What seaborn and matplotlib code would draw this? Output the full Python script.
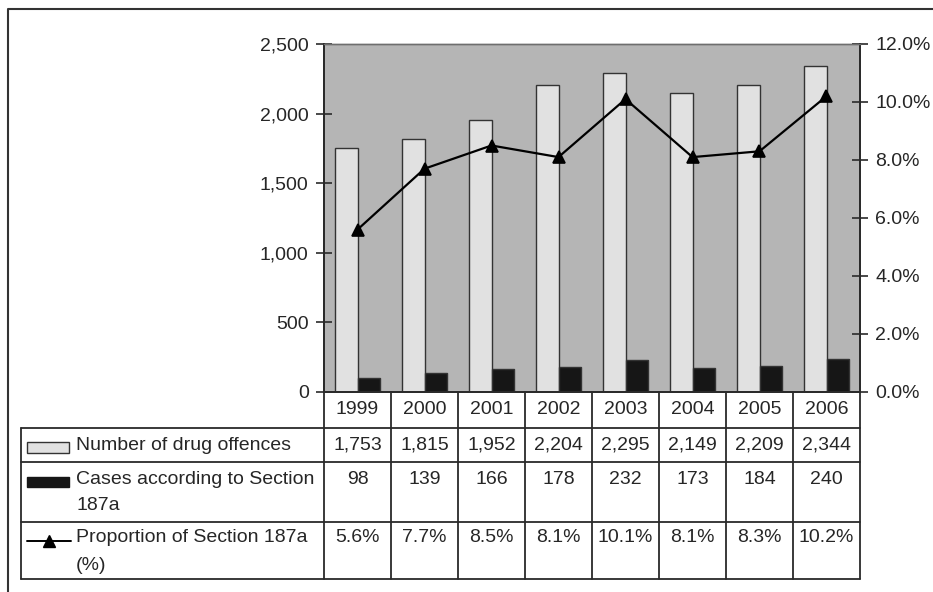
import matplotlib
matplotlib.use("Agg")
import matplotlib.pyplot as plt
from matplotlib.lines import Line2D
from matplotlib.patches import Rectangle
from matplotlib import transforms
import seaborn as sns
import pandas as pd
import numpy as np

years = ["1999", "2000", "2001", "2002", "2003", "2004", "2005", "2006"]
drug_offences = [1753, 1815, 1952, 2204, 2295, 2149, 2209, 2344]
cases_187a = [98, 139, 166, 178, 232, 173, 184, 240]
share_187a = [5.6, 7.7, 8.5, 8.1, 10.1, 8.1, 8.3, 10.2]

series_names = ["Number of drug offences", "Cases according to Section 187a"]
left_ticks = [0, 500, 1000, 1500, 2000, 2500]
right_ticks = [0, 2, 4, 6, 8, 10, 12]

sns.set_theme(style="white")
plt.rcParams["font.family"] = ["Liberation Sans", "DejaVu Sans"]

W, H = 933, 592
FS = 14.0
TXT = "#262626"
LINE = "#2a2a2a"


def fx(x):
    return x / W


def fy(y):
    return 1 - y / H


df = pd.DataFrame({
    "year": years * 2,
    "series": [series_names[0]] * len(years) + [series_names[1]] * len(years),
    "value": drug_offences + cases_187a,
})

fig = plt.figure(figsize=(W / 100, H / 100), dpi=100)
fig.patch.set_facecolor("white")

ax_left, ax_top, ax_right, ax_bottom = 324, 44, 860, 392
ax = fig.add_axes([fx(ax_left), fy(ax_bottom), fx(ax_right - ax_left), (ax_bottom - ax_top) / H])
ax.set_facecolor("#b5b5b5")

sns.barplot(data=df, x="year", y="value", hue="series", order=years,
            hue_order=series_names, palette=["#e1e1e1", "#161616"],
            edgecolor="#333333", linewidth=1.0, width=0.66, gap=0,
            saturation=1, legend=False, ax=ax)
ax.set_xlim(-0.5, len(years) - 0.5)
ax.set_ylim(0, 2500)
ax.set_yticks(left_ticks)
ax.set_yticklabels([f"{v:,}" for v in left_ticks])
ax.set_xticks([])
ax.set_xlabel("")
ax.set_ylabel("")
ax.tick_params(axis="y", direction="inout", length=12, width=1.2, color=LINE,
               labelsize=FS, labelcolor=TXT, pad=5, left=True)

ax2 = ax.twinx()
sns.pointplot(x=years, y=share_187a, order=years, color="black",
              markers="^", markersize=9, linewidth=1.6, ax=ax2)
ax2.set_xlim(-0.5, len(years) - 0.5)
ax2.set_ylim(0, 12)
ax2.set_yticks(right_ticks)
ax2.set_yticklabels([f"{v:.1f}%" for v in right_ticks])
ax2.set_ylabel("")
ax2.set_xticks([])
ax2.tick_params(axis="y", direction="inout", length=12, width=1.2, color=LINE,
                labelsize=FS, labelcolor=TXT, pad=5, right=True)

for a in (ax, ax2):
    for side, sp in a.spines.items():
        sp.set_visible(True)
        sp.set_linewidth(1.3)
        sp.set_color(LINE)
    a.spines["top"].set_color("#6e6e6e")
    a.spines["top"].set_linewidth(1.0)

# data table under the plot
blend = transforms.blended_transform_factory(ax.transData, fig.transFigure)
row_lines = [392, 428, 462, 522, 579]
tab_left = 21


def hline(x0, x1, y, lw=1.3):
    fig.add_artist(Line2D([fx(x0), fx(x1)], [fy(y), fy(y)], color=LINE, lw=lw))


def vline(x, y0, y1, lw=1.3):
    fig.add_artist(Line2D([fx(x), fx(x)], [fy(y0), fy(y1)], color=LINE, lw=lw))


for y in row_lines[1:]:
    hline(tab_left, ax_right, y)
vline(tab_left, row_lines[1], row_lines[-1])
vline(ax_left, row_lines[0], row_lines[-1])
vline(ax_right, row_lines[0], row_lines[-1])
for i in range(1, len(years)):
    fig.add_artist(Line2D([i - 0.5, i - 0.5], [fy(row_lines[0]), fy(row_lines[-1])],
                          transform=blend, color=LINE, lw=1.3))

# column headers and cell values
for i, yr in enumerate(years):
    fig.text(i, fy(410), yr, transform=blend, ha="center", va="center",
             fontsize=FS, color=TXT)
    fig.text(i, fy(445), f"{drug_offences[i]:,}", transform=blend, ha="center",
             va="center", fontsize=FS, color=TXT)
    fig.text(i, fy(479), f"{cases_187a[i]}", transform=blend, ha="center",
             va="center", fontsize=FS, color=TXT)
    fig.text(i, fy(538), f"{share_187a[i]:.1f}%", transform=blend, ha="center",
             va="center", fontsize=FS, color=TXT)

# row headers with legend keys
label_x = 76
fig.text(fx(label_x), fy(445), "Number of drug offences", ha="left", va="center",
         fontsize=FS, color=TXT)
fig.text(fx(label_x), fy(479), "Cases according to Section", ha="left", va="center",
         fontsize=FS, color=TXT)
fig.text(fx(label_x), fy(506), "187a", ha="left", va="center", fontsize=FS, color=TXT)
fig.text(fx(label_x), fy(538), "Proportion of Section 187a", ha="left", va="center",
         fontsize=FS, color=TXT)
fig.text(fx(label_x), fy(565), "(%)", ha="left", va="center", fontsize=FS, color=TXT)

fig.add_artist(Rectangle((fx(27), fy(453)), fx(42), 11 / H, facecolor="#e1e1e1",
                         edgecolor="#333333", lw=1.0))
fig.add_artist(Rectangle((fx(27), fy(487)), fx(42), 10 / H, facecolor="#161616",
                         edgecolor="#161616", lw=1.0))
fig.add_artist(Line2D([fx(27), fx(71)], [fy(541), fy(541)], color="black", lw=1.4))
fig.add_artist(Line2D([fx(49)], [fy(541)], color="black", marker="^", markersize=8,
                      lw=0))

# outer frame
fig.add_artist(Line2D([fx(8), fx(8), fx(W + 5)], [fy(H + 5), fy(9), fy(9)],
                      color="#333333", lw=1.5))

fig.savefig("out.png", dpi=100, facecolor="white")
